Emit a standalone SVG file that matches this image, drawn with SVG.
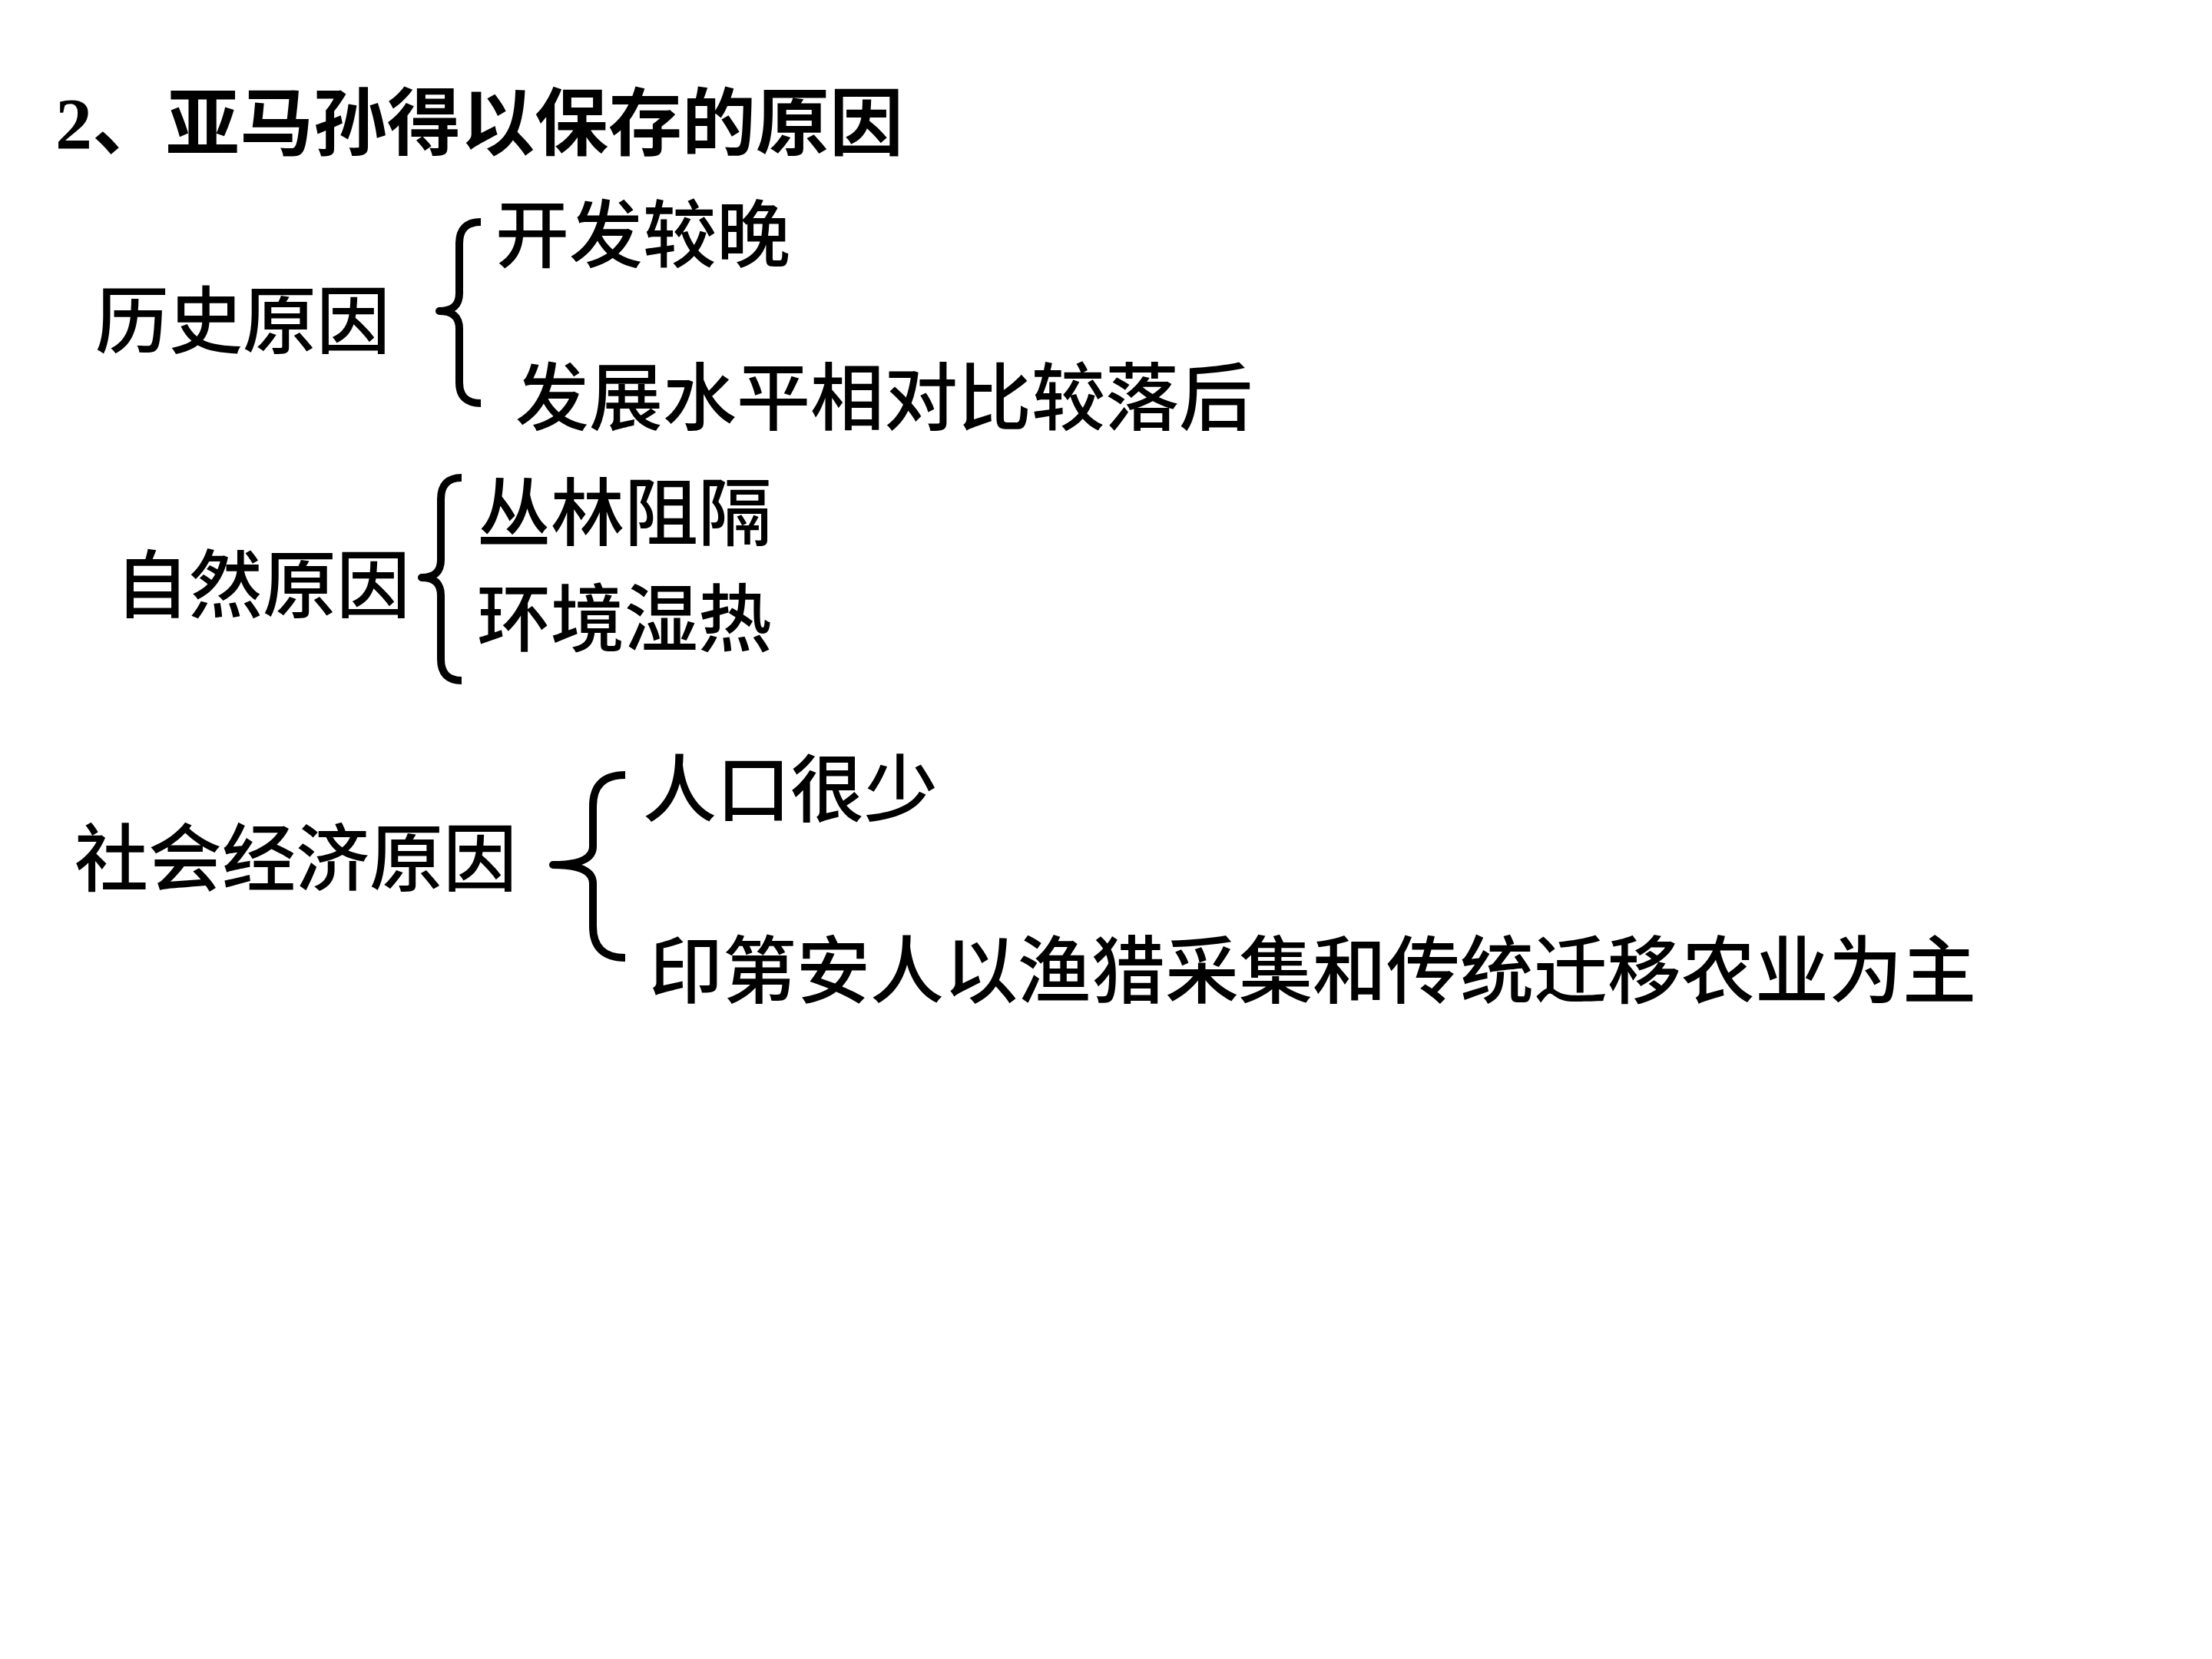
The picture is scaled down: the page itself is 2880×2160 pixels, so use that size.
<svg xmlns="http://www.w3.org/2000/svg" width="2880" height="2160" viewBox="0 0 2880 2160">
<style>
.t{font-family:"Noto Sans CJK SC","Liberation Sans",sans-serif;font-size:96px;font-weight:500;fill:#000}
.h{font-weight:700}
.n{font-family:"Liberation Serif","Noto Sans CJK SC",serif;font-weight:700}
.b{fill:none;stroke:#000;stroke-width:10;stroke-linecap:butt;stroke-linejoin:round}
</style>
<rect width="2880" height="2160" fill="#fff"/>
<g id="title"><text class="t h" x="72" y="194"><tspan class="n">2</tspan>、亚马孙得以保存的原因</text></g>
<g id="history"><text class="t" x="124" y="452">历史原因</text></g>
<g id="h1"><text class="t" x="645" y="340">开发较晚</text></g>
<g id="h2"><text class="t" x="671" y="552">发展水平相对比较落后</text></g>
<g id="nature"><text class="t" x="150" y="796">自然原因</text></g>
<g id="n1"><text class="t" x="621" y="702">丛林阻隔</text></g>
<g id="n2"><text class="t" x="621" y="840">环境湿热</text></g>
<g id="social"><text class="t" x="97" y="1152">社会经济原因</text></g>
<g id="s1"><text class="t" x="837" y="1062">人口很少</text></g>
<g id="s2"><text class="t" x="845" y="1298">印第安人以渔猎采集和传统迁移农业为主</text></g>
<g id="connectors">
<path class="b" d="M626,289 Q598,289 598,317 L598,382 Q598,405 572,405 Q598,405 598,428 L598,498 Q598,525 626,525"/>
<path class="b" d="M601,622 Q574,622 574,650 L574,729 Q574,752 549,752 Q574,752 574,775 L574,858 Q574,886 601,886"/>
<path class="b" d="M814,1009 Q772,1009 772,1050 L772,1102 Q772,1126 720,1126 Q772,1126 772,1150 L772,1206 Q772,1247 814,1247"/>
</g>
</svg>
